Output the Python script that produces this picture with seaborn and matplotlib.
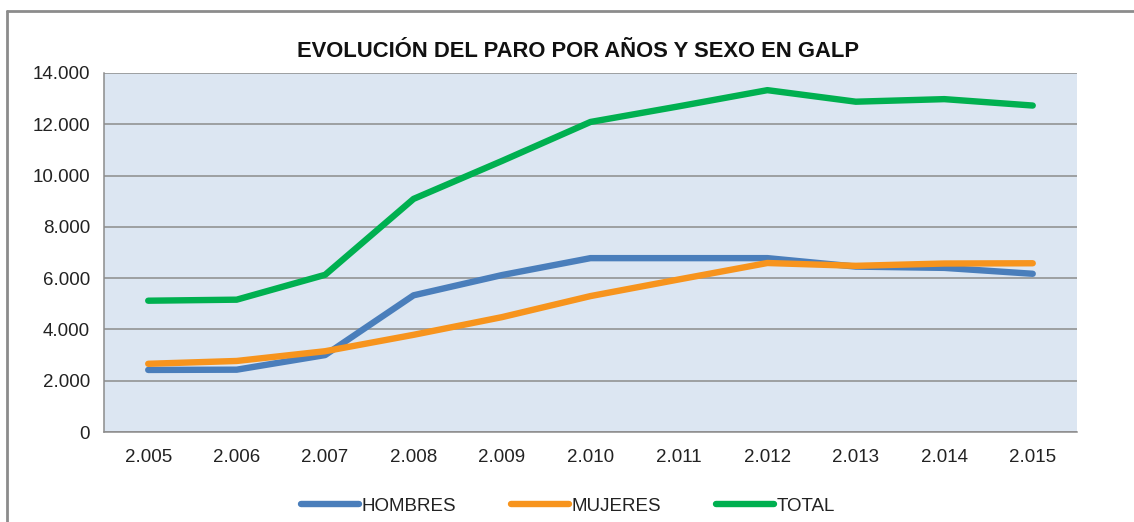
import numpy as np
import pandas as pd
import seaborn as sns
import matplotlib.pyplot as plt
from matplotlib.ticker import FuncFormatter

# Values
years = ["2.005", "2.006", "2.007", "2.008", "2.009", "2.010",
         "2.011", "2.012", "2.013", "2.014", "2.015"]
hombres = [2420, 2430, 3000, 5330, 6120, 6780, 6780, 6780, 6450, 6400, 6170]
mujeres = [2660, 2770, 3150, 3790, 4480, 5300, 5950, 6590, 6480, 6570, 6580]
total = [5120, 5160, 6130, 9090, 10570, 12090, 12700, 13330, 12880, 12980, 12730]

series_names = ["HOMBRES", "MUJERES", "TOTAL"]
colors = ["#4A7EBB", "#F7941D", "#00B050"]

df = pd.DataFrame({"year": years, "HOMBRES": hombres,
                   "MUJERES": mujeres, "TOTAL": total})
long_df = df.melt(id_vars="year", var_name="serie", value_name="paro")

sns.set_style("white")
plt.rcParams['font.family'] = ['Liberation Sans', 'DejaVu Sans']

fig = plt.figure(figsize=(11.34, 5.22), dpi=100)
ax = fig.add_axes([0.0917, 0.1724, 0.858, 0.6878])

sns.lineplot(data=long_df, x="year", y="paro", hue="serie",
             hue_order=series_names, palette=colors, linewidth=4.6,
             sort=False, ax=ax, legend=False)
for line in ax.get_lines():
    line.set_solid_capstyle("round")
    line.set_solid_joinstyle("round")

ax.set_facecolor("#DCE6F2")
ax.set_xlim(-0.5, len(years) - 0.5)
ax.set_ylim(0, 14000)
ax.set_yticks(np.arange(0, 14001, 2000))
ax.yaxis.set_major_formatter(FuncFormatter(lambda v, p: f"{int(v):,}".replace(",", ".")))
ax.grid(axis="y", color="#8C8C8C", linewidth=1.1)
ax.set_axisbelow(True)
ax.set_xlabel("")
ax.set_ylabel("")

# x ticks sit between categories, labels centred on categories
ax.set_xticks(np.arange(len(years)))
ax.set_xticklabels(years)
ax.set_xticks(np.arange(-0.5, len(years)), minor=True)
ax.tick_params(axis="x", which="major", length=0, pad=12, labelsize=13.5, colors="#222222")
ax.tick_params(axis="x", which="minor", length=6, width=1.1, color="#8C8C8C", direction="out")
ax.tick_params(axis="y", length=6, width=1.1, color="#8C8C8C", direction="out",
               pad=4, labelsize=13.5, labelcolor="#222222")

for side in ["top", "right"]:
    ax.spines[side].set_visible(False)
for side in ["left", "bottom"]:
    ax.spines[side].set_color("#8C8C8C")
    ax.spines[side].set_linewidth(1.1)

fig.text(0.51, 0.902, "EVOLUCIÓN DEL PARO POR AÑOS Y SEXO EN GALP",
         ha="center", va="center", fontsize=15.8, fontweight="bold", color="#111111")

handles = [plt.Line2D([], [], color=c, linewidth=4.6, solid_capstyle="round")
           for c in colors]
leg = fig.legend(handles, series_names, loc="center", bbox_to_anchor=(0.501, 0.03),
                 ncol=3, frameon=False, fontsize=13.5, handlelength=3.1,
                 handletextpad=0.15, columnspacing=2.9)
for t in leg.get_texts():
    t.set_color("#222222")

# outer chart border (top and left edges visible in the crop)
fig.add_artist(plt.Line2D([7 / 1134, 7 / 1134], [0, 1 - 11 / 522],
                          transform=fig.transFigure, color="#8C8C8C", linewidth=2))
fig.add_artist(plt.Line2D([7 / 1134, 1], [1 - 11 / 522, 1 - 11 / 522],
                          transform=fig.transFigure, color="#8C8C8C", linewidth=2))

fig.savefig("out.png", dpi=100, facecolor="white")
